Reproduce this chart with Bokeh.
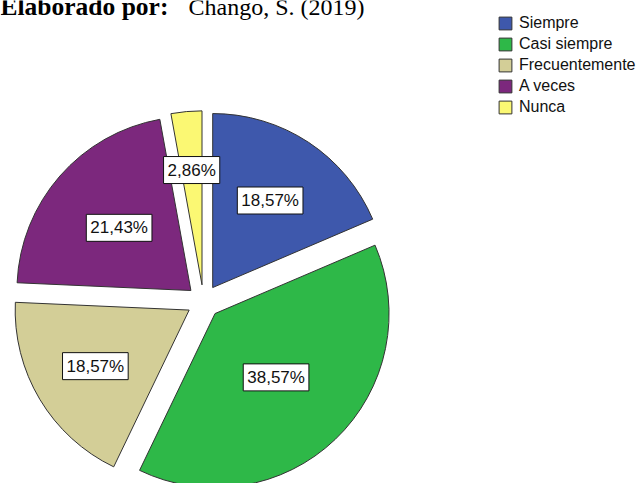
import math
from bokeh.plotting import figure
from bokeh.models import Range1d, Label, Legend, LegendItem, ColumnDataSource
from bokeh.embed import file_html
from bokeh.resources import INLINE

# ---- data ----
categories = ["Siempre", "Casi siempre", "Frecuentemente", "A veces", "Nunca"]
percentages = [18.57, 38.57, 18.57, 21.43, 2.86]
header_bold = "Elaborado por:"
header_rest = "Chango, S. (2019)"

# ---- style / layout ----
colors = ["#3E58AC", "#2EB848", "#D3CE97", "#7C287D", "#FBF873"]
W, H = 644, 483
CX, CY = 203, H - 301
R = 174
EXPLODE = 16.7
label_dist = [121, 105, 126, 112, 132]

p = figure(width=W, height=H, output_backend="svg", toolbar_location=None,
           x_range=Range1d(0, W), y_range=Range1d(0, H),
           x_axis_type=None, y_axis_type=None, min_border=0,
           outline_line_color=None, margin=0)
p.grid.visible = False

total = sum(percentages)
xs, ys, starts, ends, mids = [], [], [], [], []
cum = 0.0
for v in percentages:
    a0 = cum / total * 2 * math.pi
    cum += v
    a1 = cum / total * 2 * math.pi
    am = (a0 + a1) / 2
    s, e, m = math.pi / 2 - a0, math.pi / 2 - a1, math.pi / 2 - am
    xs.append(CX + EXPLODE * math.cos(m))
    ys.append(CY + EXPLODE * math.sin(m))
    starts.append(s)
    ends.append(e)
    mids.append(m)

src = ColumnDataSource(dict(x=xs, y=ys, start=starts, end=ends, color=colors, cat=categories))
r = p.wedge(x="x", y="y", radius=R, start_angle="start", end_angle="end", direction="clock",
            fill_color="color", line_color="#333333", line_width=1, source=src)

for i, v in enumerate(percentages):
    lx = CX + label_dist[i] * math.cos(mids[i])
    ly = CY + label_dist[i] * math.sin(mids[i])
    txt = f"{v:.2f}".replace(".", ",") + "%"
    p.add_layout(Label(x=lx, y=ly, text=txt, text_align="center", text_baseline="middle",
                       text_font="Liberation Sans", text_font_size="17px",
                       text_color="#111111", background_fill_color="white",
                       border_line_color="#111111", border_line_width=1, padding=4))

items = [LegendItem(label=c, renderers=[r], index=i) for i, c in enumerate(categories)]
legend = Legend(items=items, location=(497, H - 14 - 102), glyph_width=16, glyph_height=16,
                label_height=16, spacing=3, padding=0, margin=0, label_standoff=6,
                label_text_font="Liberation Sans", label_text_font_size="16px",
                label_text_color="#111111", border_line_color=None, background_fill_alpha=0)
p.add_layout(legend)

p.add_layout(Label(x=0, y=H - 6, text=header_bold, text_font="Liberation Serif",
                   text_font_style="bold", text_font_size="25.5px", text_baseline="alphabetic",
                   text_color="#000000"))
p.add_layout(Label(x=188, y=H - 6, text=header_rest, text_font="Liberation Serif",
                   text_font_size="24px", text_baseline="alphabetic", text_color="#000000"))

open("out.html", "w").write(file_html(p, INLINE))
